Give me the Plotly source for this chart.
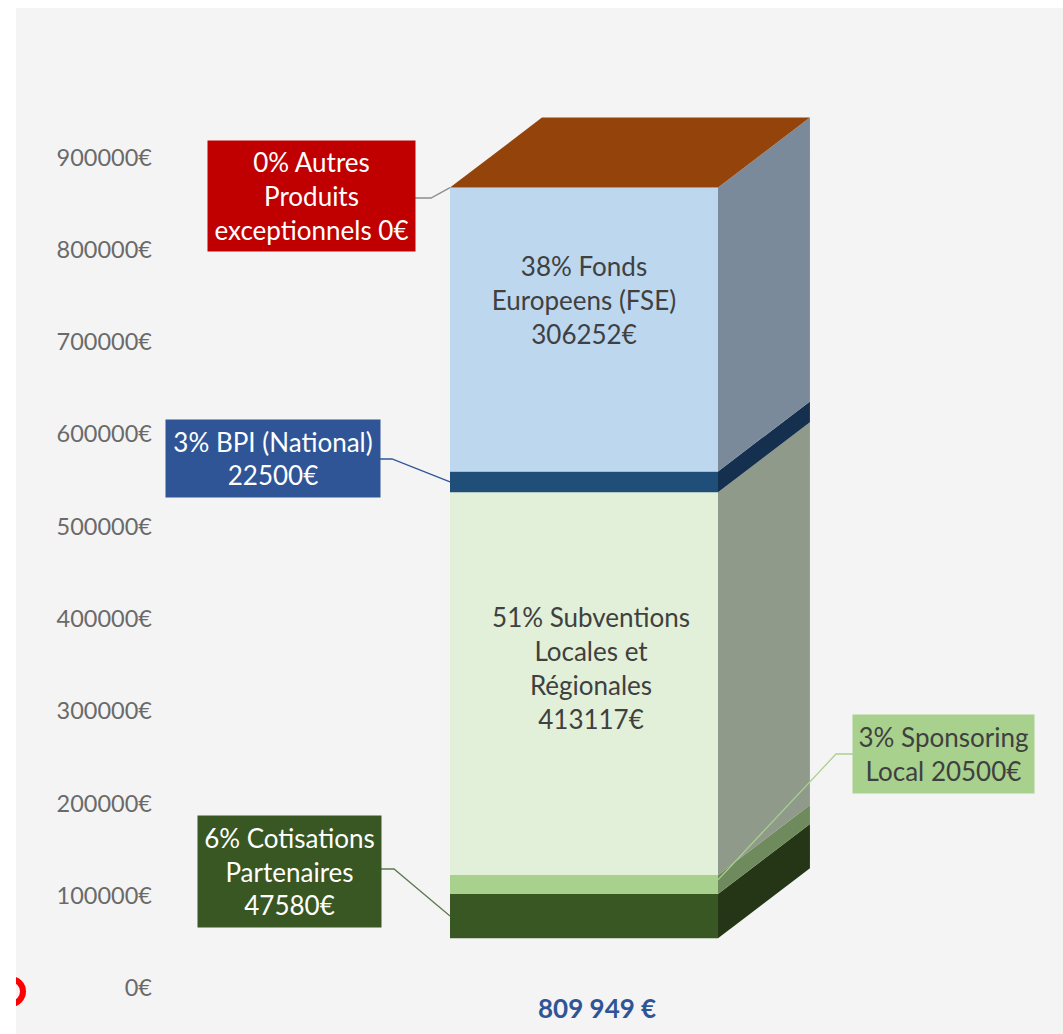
import plotly.graph_objects as go

# ---- data ----
series_names = ["Cotisations Partenaires", "Sponsoring Local", "Subventions Locales et Régionales",
                "BPI (National)", "Fonds Europeens (FSE)", "Autres Produits exceptionnels"]
series_values = [47580, 20500, 413117, 22500, 306252, 0]
front_colors = ["#385723", "#A9D18E", "#E2F0D9", "#1F4E79", "#BDD7EE", "#984807"]
side_colors = ["#243616", "#6F8A5C", "#8F9A8B", "#14304E", "#7A8A9A", "#94440A"]
tick_values = [0, 100000, 200000, 300000, 400000, 500000, 600000, 700000, 800000, 900000]
total_label = "809 949 €"
FLOOR = 54000  # apparent value of the 3D floor at the front of the bar
PROJECTION = 1.004  # the front wall of the 3D bar is drawn slightly larger than the axis scale
DEPTH_X = 0.343
DEPTH_Y = 75800

W, H = 1063, 1034
L, T = 157, 8
PX_PER_X = 268.0
X0_PX = 584.0
Y0_PX = 988.0
VAL_PER_PX = 100000 / 92.3

def fx(px): return (px - X0_PX) / PX_PER_X
def fy(py): return (Y0_PX - py) * VAL_PER_PX
def paper_x(px): return (px - L) / (W - L)
def paper_y(py): return 1 - (py - T) / (H - T)

fig = go.Figure()

heights = [v * PROJECTION for v in series_values]
bases = []
c = FLOOR
for v in heights:
    bases.append(c)
    c += v
top = c

# side faces (depth)
for b, v, col, name in zip(bases, heights, side_colors, series_names):
    if v == 0:
        continue
    fig.add_trace(go.Scatter(
        x=[0.5, 0.5 + DEPTH_X, 0.5 + DEPTH_X, 0.5, 0.5],
        y=[b, b + DEPTH_Y, b + v + DEPTH_Y, b + v, b],
        fill="toself", fillcolor=col, mode="none", hoverinfo="skip", showlegend=False))

# top face
fig.add_trace(go.Scatter(
    x=[-0.5, 0.5, 0.5 + DEPTH_X, -0.5 + DEPTH_X, -0.5],
    y=[top, top, top + DEPTH_Y, top + DEPTH_Y, top],
    fill="toself", fillcolor=side_colors[-1], mode="none", hoverinfo="skip", showlegend=False))

# front faces
for b, v, col, name in zip(bases, heights, front_colors, series_names):
    fig.add_trace(go.Bar(x=[0], y=[v], base=[b], width=1, marker=dict(color=col, line=dict(width=0)),
                         name=name, showlegend=False))

# leader lines
def leader(xs, ys, color):
    fig.add_trace(go.Scatter(x=xs, y=ys, mode="lines", line=dict(color=color, width=1.3),
                             hoverinfo="skip", showlegend=False))

leader([fx(415), fx(431), -0.5], [fy(198), fy(198), top], "#8C8C8C")
leader([fx(380), fx(392), -0.5], [fy(459), fy(459), bases[3] + heights[3] / 2], "#2F5597")
leader([fx(381), fx(394), -0.5], [fy(869), fy(869), bases[0] + heights[0] / 2], "#5F7A4E")
leader([0.5, fx(836), fx(853)], [bases[1] + heights[1] * 0.75, fy(754), fy(754)], "#A9D18E")

TXT = "Lato, Carlito, Calibri, sans-serif"
def box(text, x0, x1, y0, y1, bg, color="white", size=26):
    fig.add_annotation(x=paper_x((x0 + x1) / 2), y=paper_y((y0 + y1) / 2), xref="paper", yref="paper",
                       text=text, showarrow=False, align="center", xanchor="center", yanchor="middle",
                       width=x1 - x0, height=y1 - y0, bgcolor=bg, borderpad=0,
                       font=dict(family=TXT, size=size, color=color))

box("0% Autres<br>Produits<br>exceptionnels 0€", 208, 415, 141, 251, "#C00000")
box("3% BPI (National)<br>22500€", 166, 380, 420, 497, "#2F5597")
box("6% Cotisations<br>Partenaires<br>47580€", 198, 381, 816, 927, "#385723")
box("3% Sponsoring<br>Local 20500€", 853, 1034, 715, 793, "#A9D18E", color="#404040")
box("38% Fonds<br>Europeens (FSE)<br>306252€", 484, 684, 248, 352, "rgba(0,0,0,0)", color="#404040")
box("51% Subventions<br>Locales et<br>Régionales<br>413117€", 490, 692, 600, 736, "rgba(0,0,0,0)", color="#404040")
fig.add_annotation(x=paper_x(597), y=paper_y(1008), xref="paper", yref="paper", text="<b>%s</b>" % total_label,
                   showarrow=False, xanchor="center", yanchor="middle",
                   font=dict(family=TXT, size=26, color="#2F5597"))

shapes = [
    dict(type="circle", xref="paper", yref="paper", x0=paper_x(-2), x1=paper_x(23), y0=paper_y(1004), y1=paper_y(979),
         line=dict(color="#FF0000", width=6), layer="below"),
    dict(type="rect", xref="paper", yref="paper", x0=paper_x(0), x1=paper_x(16), y0=paper_y(H), y1=paper_y(0),
         fillcolor="white", line=dict(width=0), layer="below"),
    dict(type="rect", xref="paper", yref="paper", x0=paper_x(0), x1=paper_x(W), y0=paper_y(8), y1=paper_y(0),
         fillcolor="white", line=dict(width=0), layer="below"),
]

fig.update_layout(
    width=W, height=H, margin=dict(l=L, r=0, t=T, b=0, autoexpand=False),
    paper_bgcolor="#F4F4F4", plot_bgcolor="rgba(0,0,0,0)",
    barmode="overlay", showlegend=False, shapes=shapes,
    xaxis=dict(range=[fx(L), fx(W)], visible=False, fixedrange=True),
    yaxis=dict(range=[fy(H), fy(T)], tickmode="array", tickvals=tick_values,
               ticktext=["%d€" % v for v in tick_values], showgrid=False, zeroline=False, showline=False,
               ticks="", tickfont=dict(family=TXT, size=23.5, color="#6A6A6A"), ticklabelstandoff=4, fixedrange=True),
)

fig.write_html("out.html", config=dict(displayModeBar=False),
               post_script="document.body.style.margin='0';")
